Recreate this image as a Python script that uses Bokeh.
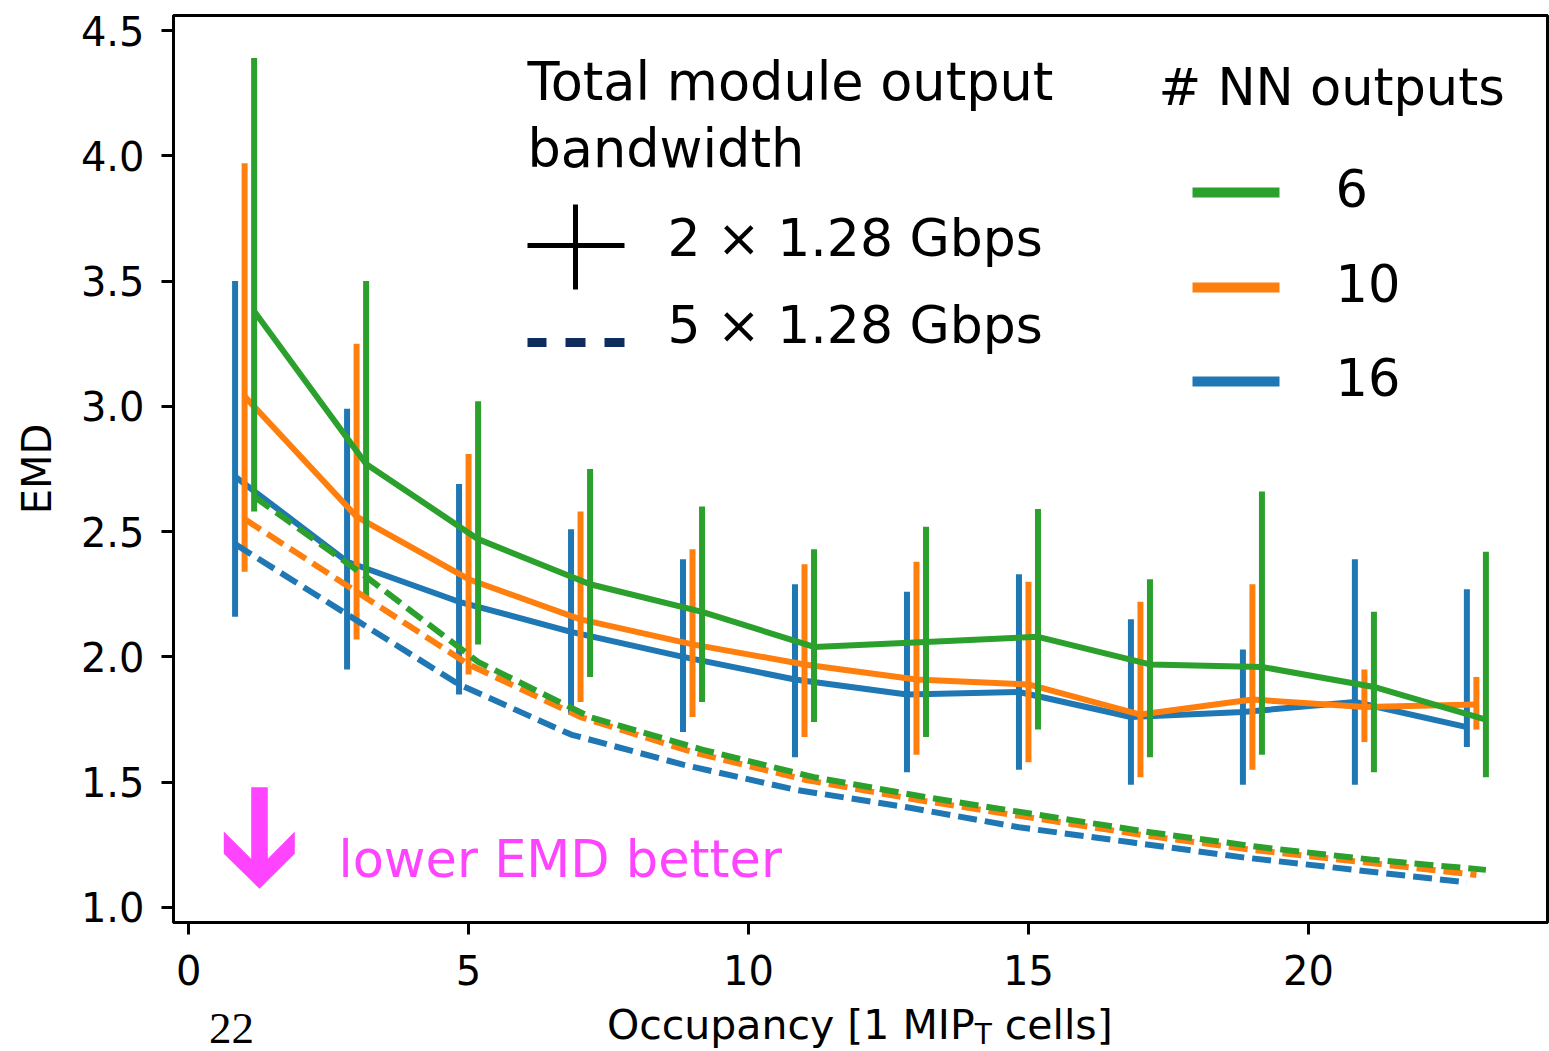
from bokeh.plotting import figure
from bokeh.models import (Range1d, FixedTicker, Label, BoxAnnotation, PolyAnnotation,
                          ColumnDataSource, PrintfTickFormatter, Div)
from bokeh.layouts import column
from bokeh.transform import dodge
from bokeh.embed import file_html
from bokeh.resources import INLINE

# ---------------- data ----------------
occupancy = [1, 3, 5, 7, 9, 11, 13, 15, 17, 19, 21, 23]
nn_outputs = ["6", "10", "16"]

# 2 x 1.28 Gbps (solid, with error bars)
emd_16 = [2.72, 2.38, 2.22, 2.10, 2.00, 1.91, 1.85, 1.86, 1.76, 1.78, 1.82, 1.72]
emd_16_hi = [3.50, 2.99, 2.69, 2.51, 2.39, 2.29, 2.26, 2.33, 2.15, 2.03, 2.39, 2.27]
emd_16_lo = [2.16, 1.95, 1.85, 1.77, 1.70, 1.60, 1.54, 1.55, 1.49, 1.49, 1.49, 1.64]

emd_10 = [3.04, 2.56, 2.31, 2.15, 2.05, 1.97, 1.91, 1.89, 1.77, 1.83, 1.80, 1.81]
emd_10_hi = [3.97, 3.25, 2.81, 2.58, 2.43, 2.37, 2.38, 2.30, 2.22, 2.29, 1.95, 1.92]
emd_10_lo = [2.34, 2.07, 1.93, 1.82, 1.76, 1.68, 1.61, 1.58, 1.52, 1.55, 1.66, 1.71]

emd_6 = [3.38, 2.77, 2.47, 2.29, 2.18, 2.04, 2.06, 2.08, 1.97, 1.96, 1.88, 1.75]
emd_6_hi = [4.39, 3.50, 3.02, 2.75, 2.60, 2.43, 2.52, 2.59, 2.31, 2.66, 2.18, 2.42]
emd_6_lo = [2.58, 2.24, 2.05, 1.92, 1.82, 1.74, 1.68, 1.71, 1.60, 1.61, 1.54, 1.52]

# 5 x 1.28 Gbps (dashed)
emd5_16 = [2.45, 2.17, 1.89, 1.69, 1.57, 1.47, 1.40, 1.32, 1.26, 1.20, 1.15, 1.10]
emd5_10 = [2.55, 2.26, 1.97, 1.76, 1.62, 1.51, 1.43, 1.36, 1.29, 1.23, 1.18, 1.13]
emd5_6 = [2.64, 2.32, 1.98, 1.76, 1.63, 1.52, 1.44, 1.37, 1.30, 1.24, 1.19, 1.15]

x_ticks = [0, 5, 10, 15, 20]
y_ticks = [1.0, 1.5, 2.0, 2.5, 3.0, 3.5, 4.0, 4.5]

# ---------------- styling ----------------
BLUE, ORANGE, GREEN = "#1f77b4", "#ff7f0e", "#2ca02c"
MAGENTA = "#ff44ff"
NAVY = "#0f2d5c"
FONT = "DejaVu Sans"

X0, X1 = -0.27, 24.27
Y0, Y1 = 0.94, 4.56
FL, FR, FT, FB = 173, 1547, 15, 922   # frame edges in page pixels


def rx(px):
    return X0 + (px - FL) / (FR - FL) * (X1 - X0)


def ry(py):
    return Y1 - (py - FT) / (FB - FT) * (Y1 - Y0)


FIG_H = 1000
p = figure(width=1549, height=FIG_H, x_range=Range1d(X0, X1), y_range=Range1d(Y0, Y1),
           output_backend="svg", toolbar_location=None,
           min_border_left=FL, min_border_right=1549 - FR, min_border_top=FT,
           min_border_bottom=FIG_H - FB)
p.background_fill_color = "white"
p.border_fill_color = "white"
p.outline_line_color = "black"
p.outline_line_width = 3
p.xgrid.visible = False
p.ygrid.visible = False

p.xaxis.ticker = FixedTicker(ticks=x_ticks)
p.yaxis.ticker = FixedTicker(ticks=y_ticks)
p.yaxis.formatter = PrintfTickFormatter(format="%.1f")
for ax in (p.xaxis, p.yaxis):
    ax.axis_line_width = 3
    ax.axis_line_color = "black"
    ax.major_tick_out = 12
    ax.major_tick_in = 0
    ax.major_tick_line_width = 3
    ax.major_tick_line_color = "black"
    ax.minor_tick_line_color = None
    ax.major_label_text_font = FONT
    ax.major_label_text_font_size = "40px"
    ax.major_label_text_color = "black"
p.yaxis.major_label_standoff = 17
p.xaxis.major_label_standoff = 20
p.yaxis.axis_label = "EMD"
p.yaxis.axis_label_text_font = FONT
p.yaxis.axis_label_text_font_size = "40px"
p.yaxis.axis_label_text_font_style = "normal"
p.yaxis.axis_label_text_color = "black"
p.yaxis.axis_label_standoff = 18

src = ColumnDataSource(dict(
    occ=occupancy,
    s16=emd_16, h16=emd_16_hi, l16=emd_16_lo,
    s10=emd_10, h10=emd_10_hi, l10=emd_10_lo,
    s6=emd_6, h6=emd_6_hi, l6=emd_6_lo,
    d16=emd5_16, d10=emd5_10, d6=emd5_6,
))

series = [("16", BLUE, -0.17), ("10", ORANGE, 0.0), ("6", GREEN, 0.17)]
LW = 6
for key, col, off in series:
    xs = dodge("occ", off)
    p.segment(x0=xs, y0="l" + key, x1=xs, y1="h" + key, source=src,
              line_color=col, line_width=LW, line_cap="butt")
    p.line(x=xs, y="s" + key, source=src, line_color=col, line_width=LW,
           line_join="round")
for key, col, off in series:
    xs = dodge("occ", off)
    p.line(x=xs, y="d" + key, source=src, line_color=col, line_width=LW,
           line_dash="19 8", line_join="round")


# ---------------- legends (manual) ----------------
def label(text, px, py, size, color="black"):
    # py is the wanted baseline; compensate the renderer's baseline offset
    p.add_layout(Label(x=rx(px), y=ry(py - 0.39 * size), text=text, text_font=FONT,
                       text_font_size=f"{size}px", text_color=color, text_align="left",
                       text_baseline="alphabetic"))


def box(l, r, t, b, color):
    p.add_layout(BoxAnnotation(left=rx(l), right=rx(r), top=ry(t), bottom=ry(b),
                               fill_color=color, fill_alpha=1.0, line_color=None))


label("Total module output", 527, 101, 52.5)
label("bandwidth", 527, 168, 52.5)
label("2 \u00d7 1.28 Gbps", 667, 258, 52)
label("5 \u00d7 1.28 Gbps", 667, 345, 52)
box(527, 624, 242.5, 247.5, "black")
box(572.5, 577.5, 204, 289, "black")
for l, r in [(527, 546), (565, 585), (604, 624)]:
    box(l, r, 337.5, 346.5, NAVY)

label("# NN outputs", 1158, 107, 51)
for name, col, yc in [(nn_outputs[0], GREEN, 192), (nn_outputs[1], ORANGE, 287),
                      (nn_outputs[2], BLUE, 381)]:
    box(1192, 1279, yc - 5, yc + 5, col)
    label(name, 1335, yc + 15, 51)

# "lower EMD better" arrow
arrow_px = [(250.7, 786.7), (267.3, 786.7), (267.3, 858.3), (294.3, 831), (294.3, 853.3),
            (259, 888.3), (223.3, 853.3), (223.3, 831), (250.7, 858.3)]
p.add_layout(PolyAnnotation(xs=[rx(a) for a, _ in arrow_px], ys=[ry(b) for _, b in arrow_px],
                            fill_color=MAGENTA, fill_alpha=1.0, line_color=None))
label("lower EMD better", 338, 879, 51, color=MAGENTA)

# x-axis label (with subscript T) and page number, below the figure
DIV_H = 51
below = Div(width=1549, height=DIV_H, margin=0, text=(
    f'<div style="position:relative;width:1549px;height:{DIV_H}px;color:black;">'
    '<span style="position:absolute;left:209px;top:7px;font-family:\'Liberation Serif\';'
    'font-size:45px;line-height:42px;">22</span>'
    '<span style="position:absolute;left:607px;top:5px;font-family:\'DejaVu Sans\';'
    'font-size:41px;line-height:41px;white-space:nowrap;">Occupancy [1 MIP'
    '<span style="font-size:28px;position:relative;top:5px;">T</span> cells]</span>'
    '</div>'))

layout = column(p, below, spacing=0)
open("out.html", "w").write(file_html(layout, INLINE))
